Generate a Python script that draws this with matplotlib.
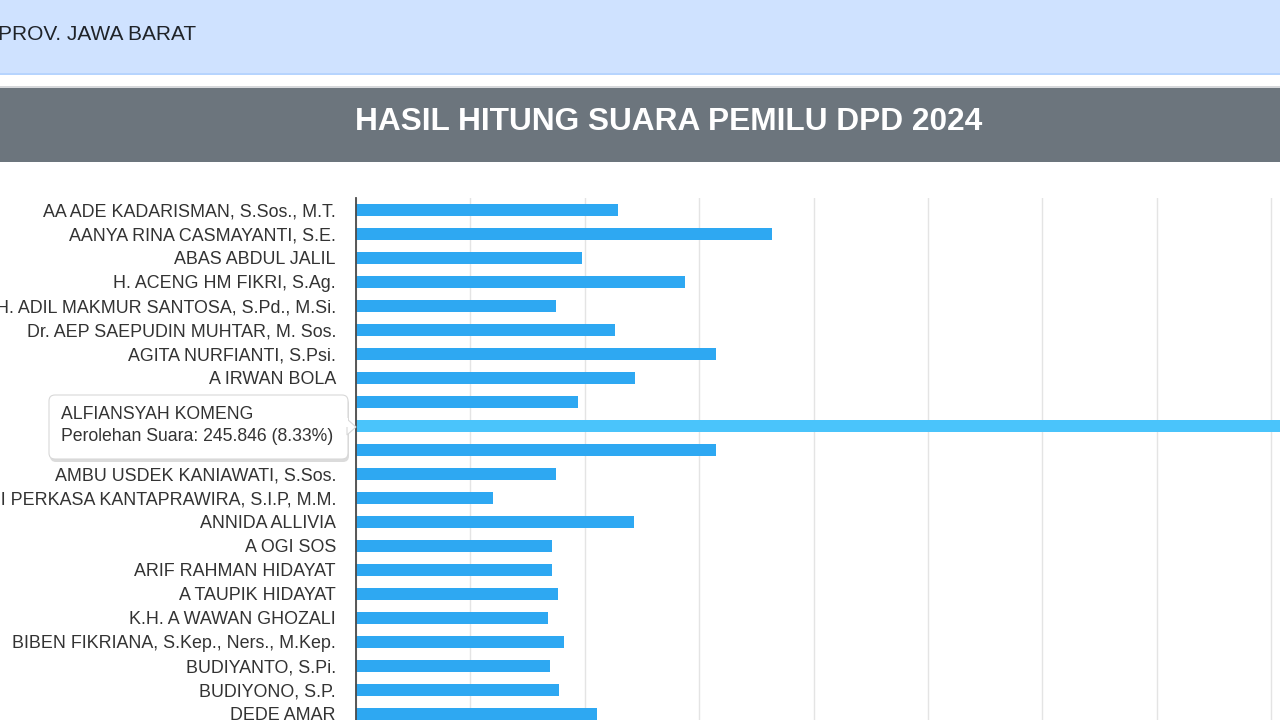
import matplotlib
matplotlib.use('Agg')
import matplotlib.pyplot as plt
from matplotlib.patches import Rectangle, FancyBboxPatch, Polygon
from matplotlib.ticker import MultipleLocator
from matplotlib.transforms import IdentityTransform

plt.rcParams['font.family'] = ['Liberation Sans', 'DejaVu Sans']

page_label = "PROV. JAWA BARAT"
title = "HASIL HITUNG SUARA PEMILU DPD 2024"

candidates = [
    "AA ADE KADARISMAN, S.Sos., M.T.",
    "AANYA RINA CASMAYANTI, S.E.",
    "ABAS ABDUL JALIL",
    "H. ACENG HM FIKRI, S.Ag.",
    "H. ADIL MAKMUR SANTOSA, S.Pd., M.Si.",
    "Dr. AEP SAEPUDIN MUHTAR, M. Sos.",
    "AGITA NURFIANTI, S.Psi.",
    "A IRWAN BOLA",
    "",
    "ALFIANSYAH KOMENG",
    "",
    "AMBU USDEK KANIAWATI, S.Sos.",
    "ANDRI PERKASA KANTAPRAWIRA, S.I.P, M.M.",
    "ANNIDA ALLIVIA",
    "A OGI SOS",
    "ARIF RAHMAN HIDAYAT",
    "A TAUPIK HIDAYAT",
    "K.H. A WAWAN GHOZALI",
    "BIBEN FIKRIANA, S.Kep., Ners., M.Kep.",
    "BUDIYANTO, S.Pi.",
    "BUDIYONO, S.P.",
    "DEDE AMAR",
]
votes = [57300, 90900, 49400, 71900, 43800, 56600, 78700, 61000, 48500,
         245846, 78700, 43700, 30000, 60700, 42800, 42800, 44100, 41900,
         45400, 42400, 44300, 52700]
highlight_index = 9
tooltip_title = "ALFIANSYAH KOMENG"
tooltip_body = "Perolehan Suara: 245.846 (8.33%)"

W, H = 1280, 720
fig = plt.figure(figsize=(W / 100, H / 100), dpi=100)
fig.patch.set_facecolor('white')


def fx(x):
    return x / W


def fy(y):
    return 1 - y / H


def band(y0, y1, color):
    fig.add_artist(Rectangle((0, fy(y1)), 1, (y1 - y0) / H, transform=fig.transFigure,
                             facecolor=color, edgecolor='none', zorder=1))


# page header
band(0, 73, '#cfe2ff')
band(73, 75, '#b6d4fe')
band(86, 88, '#d6d8db')
band(88, 162, '#6c757d')
fig.text(fx(-2), fy(35), page_label, ha='left', va='center', fontsize=15,
         color='#1f2329', zorder=3)
fig.text(fx(669), fy(122), title, ha='center', va='center', fontsize=22.8,
         color='white', fontweight='bold', zorder=3)

# chart
n = len(candidates)
ax = fig.add_axes([fx(356), fy(726), 1144 / W, (726 - 198) / H])
ax.set_xlim(0, 250000)
ax.set_ylim(n - 0.5, -0.5)
colors = ['#2ea8f2'] * n
colors[highlight_index] = '#4ac4fb'
ax.barh(range(n), votes, height=0.46, color=colors, zorder=2)
ax.xaxis.set_major_locator(MultipleLocator(25000))
ax.grid(axis='x', color='#e4e4e4', lw=1.0, zorder=0)
ax.set_axisbelow(True)
for s in ['top', 'right', 'bottom']:
    ax.spines[s].set_visible(False)
ax.spines['left'].set_color('#4a4a4a')
ax.spines['left'].set_linewidth(1.3)
ax.tick_params(axis='x', length=0, labelbottom=False)
ax.set_yticks(range(n), candidates)
ax.tick_params(axis='y', length=0, pad=14.4, labelsize=12.9, labelcolor='#333333')
# the label of the hovered bar is hidden beneath the tooltip
ax.get_yticklabels()[highlight_index].set_visible(False)

# tooltip
ident = IdentityTransform()
x0, y0, x1, y1 = 49, 395, 348, 459
shadow = FancyBboxPatch((x0 + 1, H - y1 - 3), x1 - x0, y1 - y0,
                        boxstyle="round,pad=0,rounding_size=6", transform=ident,
                        facecolor='#000000', alpha=0.14, edgecolor='none', zorder=5)
fig.add_artist(shadow)
box = FancyBboxPatch((x0, H - y1), x1 - x0, y1 - y0,
                     boxstyle="round,pad=0,rounding_size=6", transform=ident,
                     facecolor='white', edgecolor='#d8d8d8', lw=0.8, zorder=6)
fig.add_artist(box)
arrow = Polygon([(x1 - 1, H - 419), (356, H - 427), (x1 - 1, H - 435)], closed=True,
                transform=ident, facecolor='white', edgecolor='#d8d8d8', lw=0.8, zorder=6)
fig.add_artist(arrow)
fig.add_artist(Rectangle((x1 - 2, H - 418), 2, -10 + 1, transform=ident,
                         facecolor='white', edgecolor='none', zorder=7))
fig.text(fx(61), fy(415), tooltip_title, ha='left', va='center', fontsize=12.7,
         color='#333333', zorder=8)
fig.text(fx(61), fy(437), tooltip_body, ha='left', va='center', fontsize=12.7,
         color='#333333', zorder=8)

fig.savefig('out.png', dpi=100)
